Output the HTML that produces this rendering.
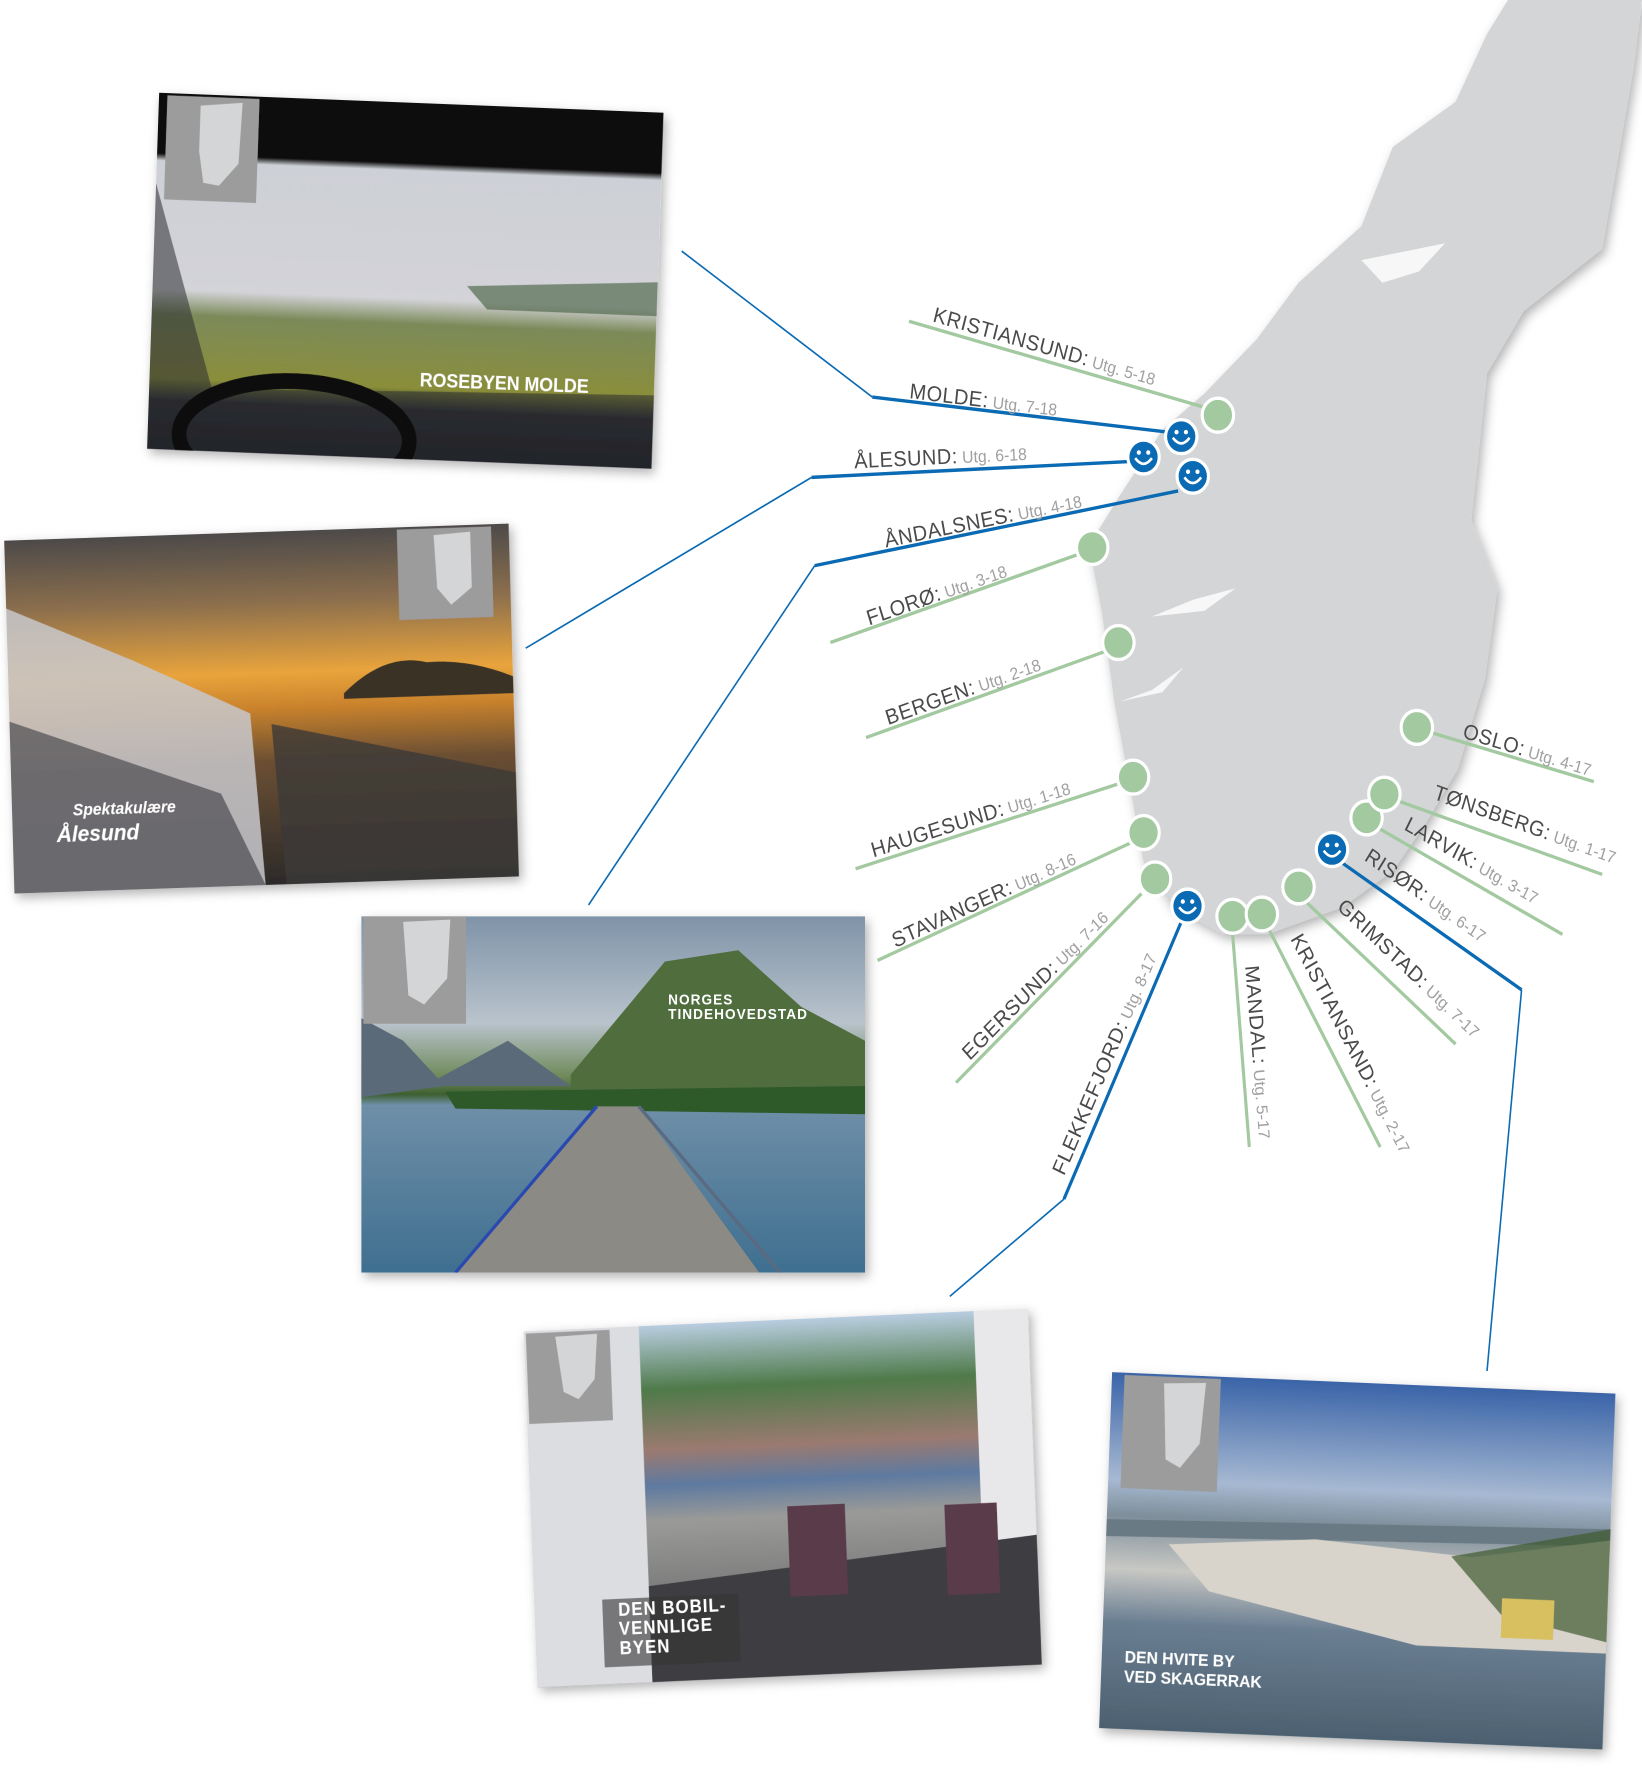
<!DOCTYPE html>
<html><head><meta charset="utf-8"><style>
html,body{margin:0;padding:0;background:#fff;}
svg{display:block;}
text{font-family:"Liberation Sans",sans-serif;}
.n{fill:#4a4a4a;font-size:19px;letter-spacing:0.5px;}
.u{fill:#a0a0a0;font-size:15px;}
.g{stroke:#a3c9a0;stroke-width:3;fill:none;}
.b{stroke:#0a6ab3;stroke-width:3;fill:none;}
.bt{stroke:#0a6ab3;stroke-width:1.5;fill:none;}
.gc{fill:#a3c9a0;stroke:#fff;stroke-width:3;}
.bc{fill:#0a6ab3;stroke:#fff;stroke-width:3;}
.t{fill:#fff;font-weight:bold;}
</style></head><body>
<svg width="1642" height="1776" viewBox="0 0 1568 1570" preserveAspectRatio="none" xmlns="http://www.w3.org/2000/svg">
<defs>
<filter id="sh" x="-10%" y="-10%" width="120%" height="120%"><feDropShadow dx="3" dy="4" stdDeviation="5" flood-color="#000" flood-opacity="0.3"/></filter>
<clipPath id="cp"><rect width="482" height="315"/></clipPath>
<linearGradient id="p1" x1="0" y1="0" x2="0" y2="1"><stop offset="0" stop-color="#0b0b0b"/><stop offset="0.17" stop-color="#111"/><stop offset="0.19" stop-color="#cdd0d6"/><stop offset="0.55" stop-color="#d3d3d8"/><stop offset="0.62" stop-color="#7c8a5a"/><stop offset="0.8" stop-color="#8a8e3a"/><stop offset="0.86" stop-color="#2a2c30"/><stop offset="1" stop-color="#1a1c22"/></linearGradient>
<linearGradient id="p2" x1="0" y1="0" x2="0" y2="1"><stop offset="0" stop-color="#4d4a4a"/><stop offset="0.2" stop-color="#8c6f4d"/><stop offset="0.4" stop-color="#e9a43c"/><stop offset="0.5" stop-color="#c9822c"/><stop offset="0.65" stop-color="#6b4f32"/><stop offset="1" stop-color="#2c2a2a"/></linearGradient>
<linearGradient id="p3" x1="0" y1="0" x2="0" y2="1"><stop offset="0" stop-color="#7f93a8"/><stop offset="0.3" stop-color="#b9c3cc"/><stop offset="0.45" stop-color="#6f8a5a"/><stop offset="0.5" stop-color="#3e6030"/><stop offset="0.53" stop-color="#6f8fa8"/><stop offset="1" stop-color="#3f6f90"/></linearGradient>
<linearGradient id="p4" x1="0" y1="0" x2="0" y2="1"><stop offset="0" stop-color="#b8cde0"/><stop offset="0.18" stop-color="#4f7a4a"/><stop offset="0.35" stop-color="#9b7a70"/><stop offset="0.45" stop-color="#5e7aa0"/><stop offset="0.55" stop-color="#9a9a98"/><stop offset="1" stop-color="#555558"/></linearGradient>
<linearGradient id="p5" x1="0" y1="0" x2="0" y2="1"><stop offset="0" stop-color="#3a64a8"/><stop offset="0.3" stop-color="#a7b9d2"/><stop offset="0.4" stop-color="#7e8e9a"/><stop offset="0.55" stop-color="#c8c8c4"/><stop offset="0.7" stop-color="#6a7e92"/><stop offset="1" stop-color="#4c6070"/></linearGradient>
</defs>

<path d="M1440 0 L1568 0 L1560 60 L1530 220 L1455 275 L1420 330 L1405 460 L1430 520 L1418 600 L1392 680 L1360 730 L1330 770 L1282 802 L1210 826 L1168 826 L1120 802 L1092 762 L1080 700 L1064 620 L1052 540 L1040 482 L1068 440 L1110 380 L1150 348 L1200 300 L1240 250 L1300 200 L1330 130 L1390 90 L1420 30 Z" fill="#d4d5d6" filter="url(#sh)"/>
<path d="M1300 230 L1380 215 L1355 240 L1320 250 Z M1180 520 L1140 530 L1100 545 L1150 540 Z M1130 590 L1100 610 L1070 620 L1110 612 Z" fill="#fff" opacity="0.8"/>

<polyline class="g" points="1150,360 868,284"/>
<polyline class="b" points="1115,382 833,351"/><polyline class="bt" points="833,351 651,222"/>
<polyline class="b" points="1078,408 775,422"/><polyline class="bt" points="775,422 502,573"/>
<polyline class="b" points="1125,434 778,500"/><polyline class="bt" points="778,500 562,800"/>
<polyline class="g" points="1030,490 793,568"/>
<polyline class="g" points="1055,576 827,652"/>
<polyline class="g" points="1068,693 817,768"/>
<polyline class="g" points="1080,745 838,849"/>
<polyline class="g" points="1090,790 913,957"/>
<polyline class="b" points="1128,815 1016,1060"/><polyline class="bt" points="1016,1060 907,1146"/>
<polyline class="g" points="1177,825 1193,1014"/>
<polyline class="g" points="1212,822 1318,1014"/>
<polyline class="g" points="1248,798 1390,923"/>
<polyline class="b" points="1282,763 1453,875"/><polyline class="bt" points="1453,875 1420,1212"/>
<polyline class="g" points="1318,733 1492,826"/>
<polyline class="g" points="1335,708 1530,773"/>
<polyline class="g" points="1368,648 1522,691"/>

<text transform="translate(890,284) rotate(15)"><tspan class="n">KRISTIANSUND:</tspan><tspan class="u"> Utg. 5-18</tspan></text>
<text transform="translate(868,352) rotate(6.3)"><tspan class="n">MOLDE:</tspan><tspan class="u"> Utg. 7-18</tspan></text>
<text transform="translate(816,414) rotate(-2.6)"><tspan class="n">ÅLESUND:</tspan><tspan class="u"> Utg. 6-18</tspan></text>
<text transform="translate(846,484) rotate(-10.8)"><tspan class="n">ÅNDALSNES:</tspan><tspan class="u"> Utg. 4-18</tspan></text>
<text transform="translate(830,553) rotate(-18.2)"><tspan class="n">FLORØ:</tspan><tspan class="u"> Utg. 3-18</tspan></text>
<text transform="translate(848,641) rotate(-18.4)"><tspan class="n">BERGEN:</tspan><tspan class="u"> Utg. 2-18</tspan></text>
<text transform="translate(834,758) rotate(-16.6)"><tspan class="n">HAUGESUND:</tspan><tspan class="u"> Utg. 1-18</tspan></text>
<text transform="translate(855,838) rotate(-23.3)"><tspan class="n">STAVANGER:</tspan><tspan class="u"> Utg. 8-16</tspan></text>
<text transform="translate(926,938) rotate(-43.3)"><tspan class="n">EGERSUND:</tspan><tspan class="u"> Utg. 7-16</tspan></text>
<text transform="translate(1016,1040) rotate(-65.4)"><tspan class="n">FLEKKEFJORD:</tspan><tspan class="u"> Utg. 8-17</tspan></text>
<text transform="translate(1189,854) rotate(85)"><tspan class="n">MANDAL:</tspan><tspan class="u"> Utg. 5-17</tspan></text>
<text transform="translate(1232,830) rotate(61)"><tspan class="n">KRISTIANSAND:</tspan><tspan class="u"> Utg. 2-17</tspan></text>
<text transform="translate(1276,803) rotate(41.4)"><tspan class="n">GRIMSTAD:</tspan><tspan class="u"> Utg. 7-17</tspan></text>
<text transform="translate(1302,760) rotate(33.2)"><tspan class="n">RISØR:</tspan><tspan class="u"> Utg. 6-17</tspan></text>
<text transform="translate(1340,733) rotate(28)"><tspan class="n">LARVIK:</tspan><tspan class="u"> Utg. 3-17</tspan></text>
<text transform="translate(1368,706) rotate(18.4)"><tspan class="n">TØNSBERG:</tspan><tspan class="u"> Utg. 1-17</tspan></text>
<text transform="translate(1396,652) rotate(15.6)"><tspan class="n">OSLO:</tspan><tspan class="u"> Utg. 4-17</tspan></text>

<g>
<circle class="gc" cx="1163" cy="367" r="15"/>
<circle class="gc" cx="1043" cy="484" r="15"/>
<circle class="gc" cx="1068" cy="568" r="15"/>
<circle class="gc" cx="1082" cy="687" r="15"/>
<circle class="gc" cx="1092" cy="736" r="15"/>
<circle class="gc" cx="1103" cy="777" r="15"/>
<circle class="gc" cx="1177" cy="810" r="15"/>
<circle class="gc" cx="1205" cy="808" r="15"/>
<circle class="gc" cx="1240" cy="784" r="15"/>
<circle class="gc" cx="1305" cy="723" r="15"/>
<circle class="gc" cx="1322" cy="702" r="15"/>
<circle class="gc" cx="1353" cy="643" r="15"/>
</g>
<g>
<g transform="translate(1128,386)"><circle class="bc" r="15"/><circle cx="-4.5" cy="-4" r="2" fill="#fff"/><circle cx="4.5" cy="-4" r="2" fill="#fff"/><path d="M-8 1 Q0 11 8 1" stroke="#fff" stroke-width="2.4" fill="none"/></g>
<g transform="translate(1092,404)"><circle class="bc" r="15"/><circle cx="-4.5" cy="-4" r="2" fill="#fff"/><circle cx="4.5" cy="-4" r="2" fill="#fff"/><path d="M-8 1 Q0 11 8 1" stroke="#fff" stroke-width="2.4" fill="none"/></g>
<g transform="translate(1139,421)"><circle class="bc" r="15"/><circle cx="-4.5" cy="-4" r="2" fill="#fff"/><circle cx="4.5" cy="-4" r="2" fill="#fff"/><path d="M-8 1 Q0 11 8 1" stroke="#fff" stroke-width="2.4" fill="none"/></g>
<g transform="translate(1134,801)"><circle class="bc" r="15"/><circle cx="-4.5" cy="-4" r="2" fill="#fff"/><circle cx="4.5" cy="-4" r="2" fill="#fff"/><path d="M-8 1 Q0 11 8 1" stroke="#fff" stroke-width="2.4" fill="none"/></g>
<g transform="translate(1272,751)"><circle class="bc" r="15"/><circle cx="-4.5" cy="-4" r="2" fill="#fff"/><circle cx="4.5" cy="-4" r="2" fill="#fff"/><path d="M-8 1 Q0 11 8 1" stroke="#fff" stroke-width="2.4" fill="none"/></g>
</g>

<g transform="translate(152,82) rotate(2.1)" filter="url(#sh)">
<g clip-path="url(#cp)">
<rect width="482" height="315" fill="url(#p1)"/>
<path d="M0 80 L60 260 L250 255 L482 250 L482 315 L0 315 Z" fill="#2a2b30" opacity="0.55"/>
<ellipse cx="140" cy="300" rx="110" ry="50" fill="none" stroke="#111" stroke-width="14"/>
<path d="M300 160 L482 150 L482 180 L320 180 Z" fill="#3f5a3a" opacity="0.6"/>
<rect x="8" y="2" width="88" height="92" fill="#9c9c9c"/>
<path d="M40 10 L80 6 L78 60 L60 80 L45 78 L40 50 Z" fill="#d4d5d6"/>
<text class="t" x="258" y="250" font-size="17">ROSEBYEN MOLDE</text>
</g></g>

<g transform="translate(4,478) rotate(-1.8)" filter="url(#sh)">
<g clip-path="url(#cp)">
<rect width="482" height="312" fill="url(#p2)"/>
<path d="M320 145 Q360 110 400 120 Q440 118 482 135 L482 150 L320 150 Z" fill="#3a3028"/>
<path d="M0 60 L120 110 L230 160 L240 312 L0 312 Z" fill="#c8c8cc" opacity="0.85"/>
<path d="M0 160 L200 230 L240 312 L0 312 Z" fill="#3a3a40" opacity="0.6"/>
<path d="M250 170 L482 220 L482 312 L260 312 Z" fill="#3c3a38" opacity="0.8"/>
<rect x="375" y="2" width="90" height="80" fill="#9c9c9c"/>
<path d="M410 8 L445 6 L445 55 L425 70 L412 55 Z" fill="#d4d5d6"/>
<text x="58" y="245" fill="#fff" font-family="Liberation Serif,serif" font-style="italic" font-weight="bold" font-size="15">Spektakulære</text>
<text x="42" y="268" fill="#fff" font-family="Liberation Serif,serif" font-style="italic" font-weight="bold" font-size="20">Ålesund</text>
</g></g>

<g transform="translate(345,810)" filter="url(#sh)">
<g clip-path="url(#cp)">
<rect width="481" height="315" fill="url(#p3)"/>
<path d="M200 140 L290 40 L360 30 L420 80 L481 110 L481 160 L200 160 Z" fill="#4f6d3e"/>
<path d="M0 90 L40 110 L80 150 L0 160 Z M60 150 L140 110 L200 150 Z" fill="#5a6a78"/>
<path d="M80 155 L481 150 L481 175 L90 170 Z" fill="#2f5a2a"/>
<path d="M225 168 L265 168 L380 315 L90 315 Z" fill="#8c8a84"/>
<path d="M225 168 L90 315" stroke="#2a4ab0" stroke-width="3"/>
<path d="M265 168 L400 315" stroke="#5a6a80" stroke-width="3"/>
<rect x="2" y="0" width="98" height="95" fill="#9c9c9c"/>
<path d="M40 5 L85 3 L82 55 L60 78 L45 70 Z" fill="#d4d5d6"/>
<text class="t" x="293" y="78" font-size="13" letter-spacing="1">NORGES</text>
<text class="t" x="293" y="91" font-size="13" letter-spacing="1">TINDEHOVEDSTAD</text>
</g></g>

<g transform="translate(500,1177) rotate(-2.4)" filter="url(#sh)">
<g clip-path="url(#cp)">
<rect width="483" height="315" fill="url(#p4)"/>
<rect x="0" y="0" width="110" height="315" fill="#dcdde0"/>
<rect x="430" y="0" width="53" height="210" fill="#e8e8ea"/>
<path d="M110 230 L483 200 L483 315 L110 315 Z" fill="#3e3e42"/>
<rect x="245" y="165" width="55" height="80" fill="#5a3a4a"/>
<rect x="395" y="170" width="50" height="80" fill="#5a3a4a"/>
<rect x="65" y="240" width="130" height="60" fill="#333" opacity="0.6"/>
<rect x="2" y="2" width="80" height="80" fill="#9c9c9c"/>
<path d="M30 6 L70 5 L66 45 L50 62 L36 55 Z" fill="#d4d5d6"/>
<text class="t" x="80" y="255" font-size="16" letter-spacing="1">DEN BOBIL-</text>
<text class="t" x="80" y="272" font-size="16" letter-spacing="1">VENNLIGE</text>
<text class="t" x="80" y="289" font-size="16" letter-spacing="1">BYEN</text>
</g></g>

<g transform="translate(1062,1213) rotate(2.26)" filter="url(#sh)">
<g clip-path="url(#cp)">
<rect width="481" height="315" fill="url(#p5)"/>
<path d="M0 130 L481 120 L481 135 L0 145 Z" fill="#6a7a84"/>
<path d="M60 150 L200 140 L350 150 L481 130 L481 230 L300 230 L100 190 Z" fill="#d8d4cc"/>
<path d="M330 150 L481 120 L481 220 L380 200 Z" fill="#3e5a2e" opacity="0.7"/>
<rect x="380" y="185" width="50" height="35" fill="#d8c060"/>
<rect x="12" y="2" width="92" height="100" fill="#9c9c9c"/>
<path d="M50 8 L90 6 L86 60 L68 82 L54 75 Z" fill="#d4d5d6"/>
<text class="t" x="22" y="256" font-size="15" font-weight="normal">DEN HVITE BY</text>
<text class="t" x="22" y="273" font-size="15" font-weight="normal">VED SKAGERRAK</text>
</g></g>
</svg>
</body></html>
